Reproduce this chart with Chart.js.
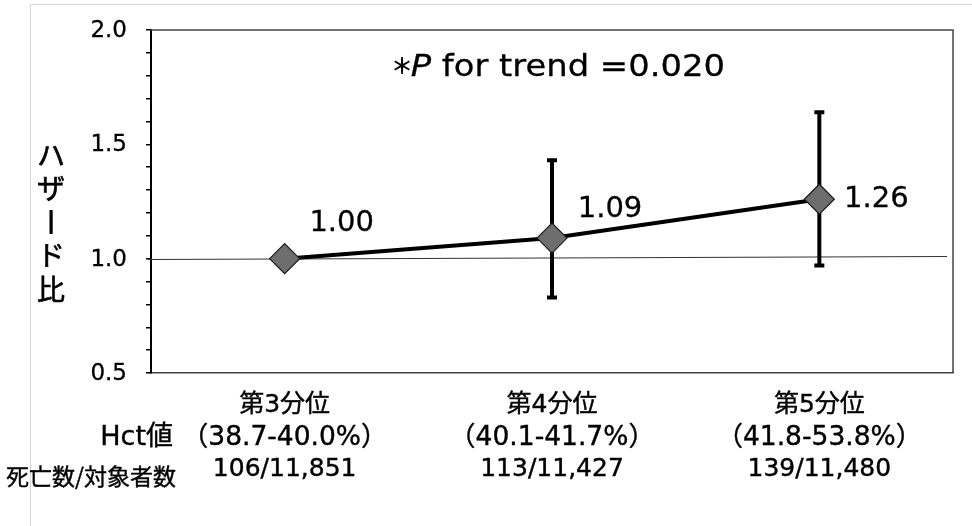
<!DOCTYPE html>
<html><head><meta charset="utf-8">
<script src="https://cdn.jsdelivr.net/npm/chart.js@4.4.0/dist/chart.umd.min.js"></script>
<style>html,body{margin:0;padding:0;background:#fff}#wrap{width:972px;height:526px;position:relative}</style>
</head><body><div id="wrap"><canvas id="c" width="972" height="526"></canvas></div>
<script>
// ---- data ----
const categories = ['第3分位', '第4分位', '第5分位'];
const hctRanges = ['（38.7-40.0%）', '（40.1-41.7%）', '（41.8-53.8%）'];
const deathsSubjects = ['106/11,851', '113/11,427', '139/11,480'];
const hazardRatios = [1.00, 1.09, 1.26];
const ciLower = [null, 0.83, 0.97];
const ciUpper = [null, 1.43, 1.64];
const valueLabels = ['1.00', '1.09', '1.26'];
const yTickValues = [0.5, 1.0, 1.5, 2.0];
const yTickLabels = ['0.5', '1.0', '1.5', '2.0'];
const referenceValue = 1.0;
const yAxisTitle = ['ハ', 'ザ', 'ー', 'ド', '比'];
const rowHeaderHct = 'Hct値';
const rowHeaderCounts = '死亡数/対象者数';
const pTrendValue = ' for trend =0.020';

const FONT = '"DejaVu Sans", "Noto Sans CJK JP", sans-serif';
const FONT_JP = '"Noto Sans CJK JP", sans-serif';

function txt(ctx, s, x, y, size, align, opts) {
  opts = opts || {};
  ctx.save();
  ctx.font = (opts.style || 'normal') + ' ' + (opts.weight || 'normal') + ' ' + size + 'px ' + (opts.family || FONT);
  ctx.fillStyle = '#000';
  ctx.textBaseline = 'middle';
  ctx.textAlign = 'left';
  const sx = opts.sx || 1;
  const w = ctx.measureText(s).width * sx;
  let x0 = x;
  if (align === 'center') x0 = x - w / 2;
  else if (align === 'right') x0 = x - w;
  ctx.translate(x0, y);
  ctx.scale(sx, 1);
  ctx.fillText(s, 0, 0);
  if (opts.stroke) {
    ctx.strokeStyle = '#000';
    ctx.lineWidth = opts.stroke;
    ctx.strokeText(s, 0, 0);
  }
  ctx.restore();
  return w;
}

const overlay = {
  id: 'overlay',
  beforeDraw(chart) {
    const ctx = chart.ctx;
    ctx.save();
    ctx.fillStyle = '#fff';
    ctx.fillRect(0, 0, chart.width, chart.height);
    ctx.strokeStyle = '#d9d9d9';
    ctx.lineWidth = 1;
    ctx.beginPath();
    ctx.moveTo(30.5, 4); ctx.lineTo(30.5, chart.height);
    ctx.moveTo(30, 4.5); ctx.lineTo(chart.width, 4.5);
    ctx.stroke();
    ctx.restore();
  },
  beforeDatasetsDraw(chart) {
    const ctx = chart.ctx, x = chart.scales.x, y = chart.scales.y, a = chart.chartArea;
    ctx.save();
    const ry = Math.round(y.getPixelForValue(referenceValue)) + 0.5;
    ctx.strokeStyle = '#333';
    ctx.lineWidth = 1;
    ctx.beginPath();
    ctx.moveTo(a.left - 3, ry); ctx.lineTo(a.right - 6, ry - 3);
    ctx.stroke();
    ctx.strokeStyle = '#000';
    ctx.lineWidth = 4;
    for (let i = 0; i < hazardRatios.length; i++) {
      if (ciLower[i] == null) continue;
      const px = x.getPixelForValue(i);
      const yt = y.getPixelForValue(ciUpper[i]);
      const yb = y.getPixelForValue(ciLower[i]);
      ctx.beginPath();
      ctx.moveTo(px, yt); ctx.lineTo(px, yb);
      ctx.moveTo(px - 5, yt); ctx.lineTo(px + 5, yt);
      ctx.moveTo(px - 5, yb); ctx.lineTo(px + 5, yb);
      ctx.stroke();
    }
    ctx.restore();
  },
  afterDraw(chart) {
    const ctx = chart.ctx, x = chart.scales.x, y = chart.scales.y, a = chart.chartArea;
    ctx.save();
    ctx.strokeStyle = '#444';
    ctx.lineWidth = 1.5;
    ctx.beginPath();
    ctx.moveTo(a.left, a.top); ctx.lineTo(a.right, a.top); ctx.lineTo(a.right, a.bottom);
    ctx.stroke();
    ctx.restore();
    // y tick labels
    yTickValues.forEach((v, i) => txt(ctx, yTickLabels[i], a.left - 24, y.getPixelForValue(v) + 1, 23, 'right', { stroke: 0.3 }));
    // y axis title
    yAxisTitle.forEach((ch, i) => {
      const cy = 155 + i * 33.5;
      if (ch === 'ー') {
        ctx.save();
        ctx.fillStyle = '#000';
        ctx.fillRect(49.5, cy - 12, 3.2, 24);
        ctx.restore();
      } else {
        txt(ctx, ch, 51, cy, 28, 'center', { family: FONT_JP, stroke: 0.6 });
      }
    });
    // value labels
    const offs = [[57, -35], [58, -29], [57, 0]];
    hazardRatios.forEach((v, i) => {
      txt(ctx, valueLabels[i], x.getPixelForValue(i) + offs[i][0], y.getPixelForValue(v) + offs[i][1], 29, 'center', { stroke: 0.3 });
    });
    // category labels
    for (let i = 0; i < categories.length; i++) {
      const px = x.getPixelForValue(i);
      txt(ctx, categories[i], px, a.bottom + 32, 25, 'center', { stroke: 0.4 });
      txt(ctx, hctRanges[i], px, a.bottom + 65, 26.5, 'center', { stroke: 0.4 });
      txt(ctx, deathsSubjects[i], px, a.bottom + 96, 25, 'center', { stroke: 0.4 });
    }
    txt(ctx, rowHeaderHct, 173, a.bottom + 65, 27, 'right', { stroke: 0.4 });
    txt(ctx, rowHeaderCounts, 176, a.bottom + 103, 23, 'right', { family: FONT_JP, stroke: 0.4 });
    // P for trend
    const size = 31, sx = 1.09;
    const cx = 559, cy = 68;
    ctx.save();
    ctx.font = 'bold 22px ' + FONT_JP;
    const w1 = ctx.measureText('＊').width * 0.8;
    ctx.font = 'italic ' + size + 'px "DejaVu Sans"';
    const w2 = ctx.measureText('P').width * sx;
    ctx.font = 'normal ' + size + 'px "DejaVu Sans"';
    const w3 = ctx.measureText(pTrendValue).width * sx;
    ctx.restore();
    const total = w1 + w2 + w3;
    const x0 = cx - total / 2;
    txt(ctx, '＊', x0 - 2, cy - 2, 22, 'left', { family: FONT_JP, weight: 'bold' });
    txt(ctx, 'P', x0 + w1, cy, size, 'left', { family: '"DejaVu Sans"', style: 'italic', sx: sx, stroke: 0.3 });
    txt(ctx, pTrendValue, x0 + w1 + w2, cy, size, 'left', { family: '"DejaVu Sans"', sx: sx, stroke: 0.3 });
  }
};

new Chart(document.getElementById('c'), {
  type: 'line',
  data: {
    labels: categories,
    datasets: [{
      data: hazardRatios,
      borderColor: '#000',
      borderWidth: 4,
      pointStyle: 'rectRot',
      pointRadius: 15,
      pointHoverRadius: 15,
      pointBackgroundColor: '#6e6e6e',
      pointBorderColor: '#1a1a1a',
      pointBorderWidth: 1.2,
      tension: 0
    }]
  },
  options: {
    responsive: false,
    animation: false,
    devicePixelRatio: 1,
    layout: { padding: { left: 0, right: 19, top: 30, bottom: 0 } },
    plugins: { legend: { display: false }, tooltip: { enabled: false } },
    scales: {
      x: {
        offset: true,
        grid: { display: false, drawTicks: false },
        border: { display: true, color: '#444', width: 1.5 },
        ticks: { display: false },
        afterFit(s) { s.height = 153; }
      },
      y: {
        min: 0.5, max: 2.0,
        ticks: { stepSize: 0.1, autoSkip: false, callback: () => '', padding: 0 },
        grid: { drawOnChartArea: false, drawTicks: true, tickLength: 5, color: '#000', lineWidth: 1.5 },
        border: { display: true, color: '#000', width: 2 },
        afterFit(s) { s.width = 151; }
      }
    }
  },
  plugins: [overlay]
});
</script></body></html>
